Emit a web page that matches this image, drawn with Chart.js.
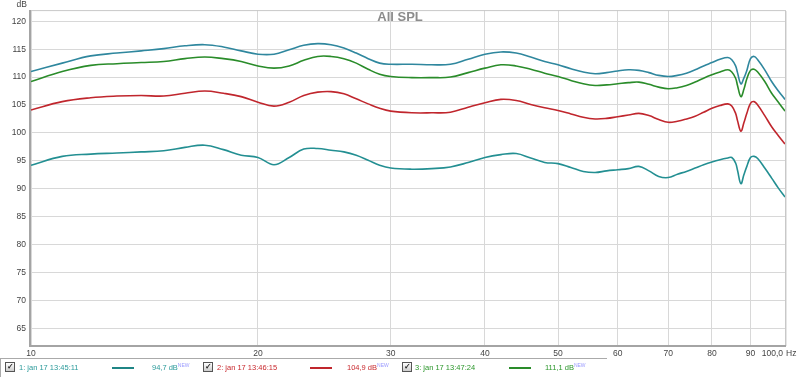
<!DOCTYPE html>
<html>
<head>
<meta charset="utf-8">
<script src="https://cdn.jsdelivr.net/npm/chart.js@4/dist/chart.umd.min.js"></script>
<style>
  html, body { margin: 0; padding: 0; background: #fff; }
  #wrap { position: relative; width: 800px; height: 377px; overflow: hidden; font-family: "Liberation Sans", Arial, sans-serif; }
  #c { position: absolute; left: 0; top: 0; }
  .legbox { position: absolute; left: 0; top: 358px; width: 606px; height: 30px; border-top: 1px solid #aaa; border-left: 1px solid #aaa; }
  .it { position: absolute; top: 363px; font-size: 7.5px; line-height: 9px; height: 9px; white-space: nowrap; }
  .cb { position: absolute; top: 362px; width: 8px; height: 8px; border: 1px solid #555; background: linear-gradient(#fff, #ccc); font-size: 8px; line-height: 8px; text-align: center; color: #222; font-weight: bold; }
  .ln { position: absolute; top: 367px; height: 2px; width: 22px; }
  sup { font-size: 5px; line-height: 0; color: #9a9aff; position: relative; top: -3px; vertical-align: baseline; }
</style>
</head>
<body>
<div id="wrap">
  <canvas id="c" width="800" height="377"></canvas>
  <div class="legbox"></div>
  <div class="cb" style="left:5px">&#10003;</div>
  <div class="it" style="left:19px;color:#2a9a9a">1: jan 17 13:45:11</div>
  <div class="ln" style="left:112px;background:#1f8585"></div>
  <div class="it" style="left:152px;color:#2a9a9a">94,7 dB<sup>NEW</sup></div>
  <div class="cb" style="left:203px">&#10003;</div>
  <div class="it" style="left:217px;color:#c8282d">2: jan 17 13:46:15</div>
  <div class="ln" style="left:310px;background:#c0262d"></div>
  <div class="it" style="left:347px;color:#c8282d">104,9 dB<sup>NEW</sup></div>
  <div class="cb" style="left:402px">&#10003;</div>
  <div class="it" style="left:415px;color:#2a962a">3: jan 17 13:47:24</div>
  <div class="ln" style="left:509px;background:#2a8c2a"></div>
  <div class="it" style="left:545px;color:#2a962a">111,1 dB<sup>NEW</sup></div>
</div>
<script>
// frequency points (Hz)
const freqs = [10, 11, 12, 13, 14, 15, 16, 17, 18, 19, 20, 21, 22, 23, 24, 25, 26, 27, 28, 29, 30,
  32, 34, 36, 38, 40, 42, 44, 46, 48, 50, 52, 54, 56, 58, 60, 62, 64, 66, 68, 70, 72, 74, 76, 78,
  80, 82, 84, 85, 86, 86.5, 87.4, 88.2, 89, 90, 91, 92, 94, 96, 98, 100];

// SPL (dB) per measurement
const splTop = [111.0, 112.5, 113.8, 114.3, 114.7, 115.1, 115.6, 115.8, 115.4, 114.7, 114.1, 114.1, 114.9, 115.7, 116.0, 115.8, 115.2, 114.3, 113.3, 112.5, 112.3,
  112.3, 112.2, 112.3, 113.2, 114.1, 114.5, 114.3, 113.6, 112.8, 112.2, 111.5, 110.9, 110.6, 110.8, 111.1, 111.3, 111.2, 110.8, 110.3, 110.1, 110.3, 110.7, 111.3, 112.0,
  112.6, 113.2, 113.5, 113.1, 112.0, 110.8, 108.8, 109.8, 111.2, 113.3, 113.7, 113.1, 111.3, 109.2, 107.5, 106.0];
const splGreen = [109.2, 111.0, 112.1, 112.4, 112.6, 112.8, 113.3, 113.6, 113.3, 112.8, 112.0, 111.6, 112.0, 113.0, 113.7, 113.7, 113.3, 112.5, 111.4, 110.5, 110.1,
  109.9, 109.9, 110.0, 110.8, 111.6, 112.2, 112.0, 111.4, 110.7, 110.1, 109.4, 108.8, 108.5, 108.6, 108.8, 109.0, 109.1, 108.7, 108.2, 107.9, 108.1, 108.5, 109.1, 109.8,
  110.4, 110.9, 111.3, 110.9, 109.8, 108.5, 106.5, 107.8, 109.7, 111.2, 111.4, 110.9, 109.2, 107.1, 105.5, 103.9];
const splRed = [104.1, 105.6, 106.3, 106.6, 106.7, 106.6, 107.1, 107.5, 107.1, 106.5, 105.5, 104.8, 105.5, 106.7, 107.3, 107.4, 107.0, 106.1, 105.2, 104.4, 103.9,
  103.6, 103.6, 103.7, 104.6, 105.4, 106.0, 105.8, 105.1, 104.5, 104.0, 103.4, 102.8, 102.5, 102.6, 102.9, 103.2, 103.5, 103.1, 102.4, 101.9, 102.1, 102.5, 103.0, 103.7,
  104.4, 104.9, 105.2, 104.8, 103.5, 102.2, 100.3, 101.8, 103.5, 105.3, 105.6, 105.0, 103.1, 101.1, 99.5, 98.0];
const splLow = [94.2, 95.8, 96.2, 96.4, 96.6, 96.8, 97.4, 97.8, 97.0, 96.0, 95.6, 94.3, 95.6, 97.1, 97.2, 96.9, 96.6, 96.0, 95.1, 94.2, 93.7,
  93.5, 93.6, 93.9, 94.7, 95.6, 96.1, 96.3, 95.5, 94.7, 94.5, 93.8, 93.1, 92.9, 93.2, 93.4, 93.6, 94.0, 93.2, 92.2, 92.0, 92.6, 93.1, 93.7, 94.3,
  94.8, 95.2, 95.5, 95.6, 94.6, 93.3, 90.9, 92.5, 94.0, 95.6, 95.8, 95.4, 93.7, 91.9, 90.1, 88.5];

const xTicks = [10, 20, 30, 40, 50, 60, 70, 80, 90, 100];
const xTickLabels = ['10', '20', '30', '40', '50', '60', '70', '80', '90', '100,0'];
const yTicks = [65, 70, 75, 80, 85, 90, 95, 100, 105, 110, 115, 120];

const pts = vals => freqs.map((f, i) => ({ x: f, y: vals[i] }));
const line = (vals, color) => ({
  data: pts(vals), borderColor: color, borderWidth: 1.6, pointRadius: 0,
  tension: 0.4, fill: false
});

const decor = {
  id: 'decor',
  beforeDatasetsDraw(chart) {
    const { ctx, chartArea: a } = chart;
    ctx.save();
    ctx.strokeStyle = '#c8c8c8'; ctx.lineWidth = 1;
    ctx.beginPath();
    ctx.moveTo(a.left, a.top + 0.5); ctx.lineTo(a.right + 0.5, a.top + 0.5);
    ctx.lineTo(a.right + 0.5, a.bottom);
    ctx.stroke();
    ctx.strokeStyle = '#e6e6e6';
    ctx.beginPath();
    ctx.moveTo(a.right + 1.5, a.top + 1); ctx.lineTo(a.right + 1.5, a.bottom + 1);
    ctx.stroke();
    ctx.strokeStyle = '#a4a4a4'; ctx.lineWidth = 2;
    ctx.beginPath();
    ctx.moveTo(a.left - 1, a.top); ctx.lineTo(a.left - 1, a.bottom + 1);
    ctx.lineTo(a.right + 1, a.bottom + 1);
    ctx.stroke();
    ctx.restore();
  },
  afterDraw(chart) {
    const { ctx, chartArea: a } = chart;
    const xs = chart.scales.x;
    ctx.save();
    ctx.fillStyle = '#8c8c8c';
    ctx.font = 'bold 13px "Liberation Sans", Arial, sans-serif';
    ctx.textAlign = 'center'; ctx.textBaseline = 'middle';
    ctx.fillText('All SPL', chart.width / 2, 17);

    ctx.fillStyle = '#444';
    ctx.font = '8.5px "Liberation Sans", Arial, sans-serif';
    ctx.textAlign = 'right'; ctx.textBaseline = 'top';
    ctx.fillText('dB', 27, 0);

    ctx.textBaseline = 'top';
    xTicks.forEach((v, i) => {
      const px = xs.getPixelForValue(v);
      if (i === xTicks.length - 1) {
        ctx.textAlign = 'right';
        ctx.fillText(xTickLabels[i], px - 2, a.bottom + 4);
        ctx.textAlign = 'left';
        ctx.fillText('Hz', px + 1, a.bottom + 4);
      } else {
        ctx.textAlign = 'center';
        ctx.fillText(xTickLabels[i], px, a.bottom + 4);
      }
    });
    ctx.restore();
  }
};

new Chart(document.getElementById('c'), {
  type: 'line',
  data: {
    datasets: [
      line(splTop, '#2f879e'),
      line(splGreen, '#2a8c2a'),
      line(splRed, '#c0262d'),
      line(splLow, '#238f92')
    ]
  },
  options: {
    responsive: false,
    animation: false,
    devicePixelRatio: 1,
    layout: { padding: { top: 9, right: 15, bottom: 32, left: 0 } },
    plugins: { legend: { display: false }, tooltip: { enabled: false }, title: { display: false } },
    scales: {
      x: {
        type: 'logarithmic', min: 10, max: 100,
        afterBuildTicks: s => { s.ticks = xTicks.map(v => ({ value: v })); },
        afterFit: s => { s.height = 0; },
        ticks: { display: false },
        grid: { color: '#d8d8d8', lineWidth: 1, drawTicks: false },
        border: { display: false }
      },
      y: {
        type: 'linear', min: 62, max: 122,
        afterBuildTicks: s => { s.ticks = yTicks.map(v => ({ value: v })); },
        afterFit: s => { s.width = 31; },
        ticks: { color: '#444', padding: 5, font: { size: 8.5, family: '"Liberation Sans", Arial, sans-serif' } },
        grid: { color: '#d8d8d8', lineWidth: 1, drawTicks: false },
        border: { display: false }
      }
    }
  },
  plugins: [decor]
});
</script>
</body>
</html>
